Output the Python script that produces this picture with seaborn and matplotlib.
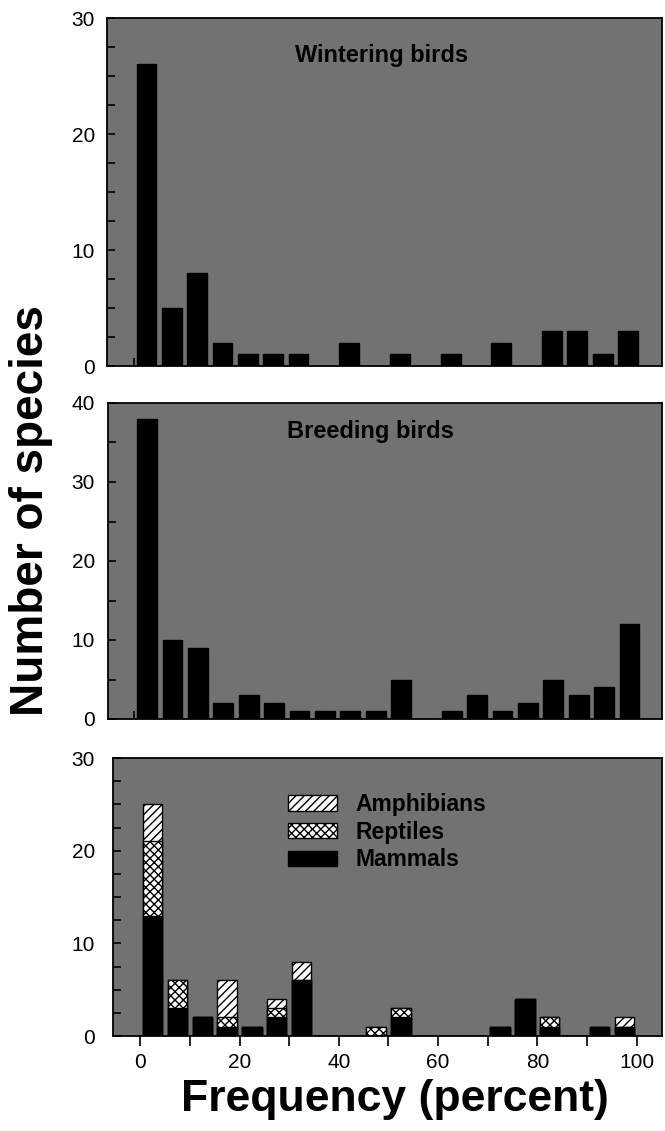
import numpy as np
import pandas as pd
import matplotlib
matplotlib.use("Agg")
import matplotlib.pyplot as plt
from matplotlib.patches import Patch
from matplotlib.ticker import MultipleLocator, FixedLocator, NullFormatter
import seaborn as sns

# ---------------- data ----------------
bins = [2.5, 7.5, 12.5, 17.5, 22.5, 27.5, 32.5, 37.5, 42.5, 47.5,
        52.5, 57.5, 62.5, 67.5, 72.5, 77.5, 82.5, 87.5, 92.5, 97.5]
wintering = [26, 5, 8, 2, 1, 1, 1, 0, 2, 0, 1, 0, 1, 0, 2, 0, 3, 3, 1, 3]
breeding = [38, 10, 9, 2, 3, 2, 1, 1, 1, 1, 5, 0, 1, 3, 1, 2, 5, 3, 4, 12]
mammals = [13, 3, 2, 1, 1, 2, 6, 0, 0, 0, 2, 0, 0, 0, 1, 4, 1, 0, 1, 1]
reptiles = [8, 3, 0, 1, 0, 1, 0, 0, 0, 1, 1, 0, 0, 0, 0, 0, 1, 0, 0, 0]
amphibians = [4, 0, 0, 4, 0, 1, 2, 0, 0, 0, 0, 0, 0, 0, 0, 0, 0, 0, 0, 1]
xtick_labels = ["0", "20", "40", "60", "80", "100"]
legend_labels = ["Amphibians", "Reptiles", "Mammals"]

# ---------------- style ----------------
sns.set_style("ticks")
plt.rcParams["font.family"] = ["Liberation Sans", "DejaVu Sans"]
plt.rcParams["hatch.color"] = "black"
plt.rcParams["hatch.linewidth"] = 1.0
for key in ["text.color", "axes.labelcolor", "xtick.color", "ytick.color",
            "axes.edgecolor"]:
    plt.rcParams[key] = "black"

PANEL = "#727272"
W, H = 665, 1131
fig = plt.figure(figsize=(W / 100, H / 100), dpi=100)


def px_axes(left, right, top, bottom):
    return fig.add_axes([left / W, 1 - bottom / H, (right - left) / W, (bottom - top) / H])


def style_axes(ax, ymax, ystep, pad):
    ax.set_facecolor(PANEL)
    for s in ax.spines.values():
        s.set_color("black")
        s.set_linewidth(1.3)
        s.set_visible(True)
    ax.set_ylim(0, ymax)
    ax.yaxis.set_major_locator(MultipleLocator(10))
    ax.yaxis.set_minor_locator(MultipleLocator(ystep))
    ax.tick_params(axis="y", which="both", direction="in", length=6, width=1.2,
                   labelsize=15, pad=pad, colors="black", labelcolor="black")
    ax.set_xlabel("")
    ax.set_ylabel("")


def draw_bars(ax, x, y, color, hatch=None):
    df = pd.DataFrame({"freq": x, "count": y})
    sns.barplot(data=df, x="freq", y="count", native_scale=True, width=0.78,
                color=color, saturation=1, edgecolor="black", linewidth=1.0,
                errorbar=None, hatch=hatch, ax=ax)


# ---------------- top: wintering birds ----------------
ax1 = px_axes(107, 662, 18, 366)
draw_bars(ax1, bins, wintering, "black")
style_axes(ax1, 30, 2.5, 8.6)
ax1.set_xlim(-5.3, 104.2)
ax1.xaxis.set_major_locator(FixedLocator([0]))
ax1.xaxis.set_minor_locator(FixedLocator([]))
ax1.xaxis.set_major_formatter(NullFormatter())
ax1.tick_params(axis="x", direction="in", length=6, width=1.2)
ax1.text(0.494, 0.892, "Wintering birds", transform=ax1.transAxes, ha="center",
         va="center", fontsize=17, fontweight="bold", color="black")

# ---------------- middle: breeding birds ----------------
ax2 = px_axes(108, 662, 403, 719)
draw_bars(ax2, bins, breeding, "black")
style_axes(ax2, 40, 5, 9.3)
ax2.set_xlim(-5.2, 103.9)
ax2.xaxis.set_major_locator(FixedLocator([0]))
ax2.xaxis.set_minor_locator(FixedLocator([]))
ax2.xaxis.set_major_formatter(NullFormatter())
ax2.tick_params(axis="x", direction="in", length=6, width=1.2)
ax2.text(0.473, 0.909, "Breeding birds", transform=ax2.transAxes, ha="center",
         va="center", fontsize=17, fontweight="bold", color="black")

# ---------------- bottom: mammals / reptiles / amphibians ----------------
ax3 = px_axes(113, 662, 758, 1036)
tot_all = [m + r + a for m, r, a in zip(mammals, reptiles, amphibians)]
tot_mr = [m + r for m, r in zip(mammals, reptiles)]
draw_bars(ax3, bins, tot_all, "white", hatch="////")
draw_bars(ax3, bins, tot_mr, "white", hatch="xxxx")
draw_bars(ax3, bins, mammals, "black")
style_axes(ax3, 30, 2.5, 13)
ax3.set_xlim(-5.5, 105.1)
ax3.xaxis.set_minor_locator(MultipleLocator(10))
ax3.set_xticks([0, 20, 40, 60, 80, 100])
ax3.set_xticklabels(xtick_labels)
ax3.tick_params(axis="x", which="both", direction="out", length=7, width=1.2,
                labelsize=15, pad=5, colors="black", labelcolor="black")

handles = [Patch(facecolor="white", edgecolor="black", hatch="////", linewidth=1.0),
           Patch(facecolor="white", edgecolor="black", hatch="xxxx", linewidth=1.0),
           Patch(facecolor="black", edgecolor="black", linewidth=1.0)]
leg = ax3.legend(handles, legend_labels, loc="upper left", bbox_to_anchor=(0.297, 0.915),
                 frameon=False, borderpad=0, handlelength=2.15, handleheight=0.65,
                 handletextpad=0.83, labelspacing=0.2,
                 prop={"size": 16.5, "weight": "bold"})
for t in leg.get_texts():
    t.set_color("black")

# ---------------- axis titles ----------------
fig.text(0.046, 1 - 511 / H, "Number of species", rotation=90, ha="center",
         va="center", fontsize=33, fontweight="bold", color="black")
fig.text(395 / W, 1 - 1099 / H, "Frequency (percent)", ha="center", va="center",
         fontsize=32, fontweight="bold", color="black")

fig.savefig("out.png", dpi=100, facecolor="white")
